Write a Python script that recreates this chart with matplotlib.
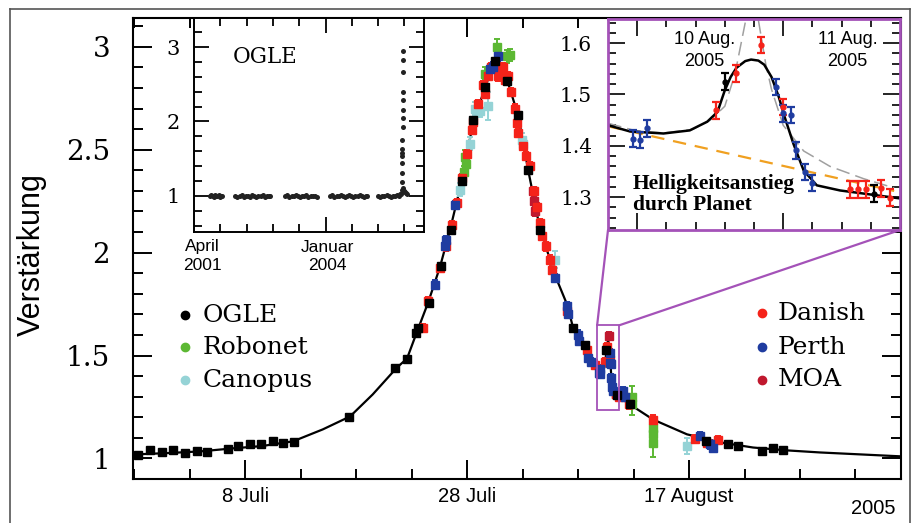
import matplotlib
matplotlib.use('Agg')
import matplotlib.pyplot as plt
from matplotlib.lines import Line2D
from matplotlib.patches import Rectangle, ConnectionPatch
from matplotlib.ticker import MultipleLocator, FixedLocator

# ---------------- data (x: Tage seit 8. Juli 2005) ----------------
model_x = [-10.1, -7.0, -4.05, -1.08, 1.5, 4.32, 7.0, 9.46, 11.5, 13.69, 14.59, 15.5,
           16.49, 17.57, 18.47, 19.55, 20.54, 21.62, 22.1, 22.55, 23.0, 23.6, 24.59,
           25.5, 26.58, 27.48, 28.2, 29.01, 29.55, 30.63, 31.2, 31.72, 31.87, 32.1,
           32.28, 32.4, 32.47, 32.52, 32.56, 32.6, 32.66, 32.7, 32.75, 32.79, 32.84,
           32.89, 32.93, 32.99, 33.06, 33.15, 33.31, 33.47, 33.68, 34.68, 36.76, 39.82,
           42.79, 45.77, 48.83, 51.8, 59.1]
model_y = [1.019, 1.026, 1.034, 1.049, 1.060, 1.083, 1.141, 1.204, 1.311, 1.442, 1.485,
           1.617, 1.757, 1.932, 2.112, 2.354, 2.631, 2.801, 2.875, 2.930, 2.905, 2.840,
           2.670, 2.403, 2.112, 1.966, 1.854, 1.748, 1.636, 1.544, 1.49, 1.440, 1.428,
           1.424, 1.430, 1.447, 1.466, 1.508, 1.534, 1.552, 1.565, 1.568, 1.566, 1.558,
           1.534, 1.495, 1.456, 1.404, 1.352, 1.323, 1.313, 1.307, 1.299, 1.262, 1.189,
           1.117, 1.078, 1.053, 1.039, 1.029, 1.010]

ogle_x = [-9.61, -8.56, -7.45, -6.46, -5.41, -4.35, -3.45, -1.56, -0.60, 0.45, 1.44, 2.55,
          3.45, 4.44, 9.40, 13.51, 14.56, 15.41, 15.62, 16.61, 17.63, 18.53, 19.52, 20.57,
          21.62, 22.52, 23.57, 24.62, 25.52, 26.58, 29.58, 30.63, 32.52, 33.54, 34.68,
          41.53, 43.54, 44.44, 46.55, 47.54, 48.50]
ogle_y = [1.019, 1.040, 1.031, 1.040, 1.028, 1.035, 1.031, 1.047, 1.060, 1.068, 1.068,
          1.084, 1.076, 1.081, 1.202, 1.437, 1.485, 1.610, 1.634, 1.756, 1.933, 2.112,
          2.346, 2.646, 2.807, 2.929, 2.832, 2.670, 2.403, 2.112, 1.634, 1.549, 1.525,
          1.307, 1.262, 1.084, 1.068, 1.060, 1.035, 1.049, 1.040]

danish_x = [16.0, 16.52, 17.57, 18.1, 18.62, 19.1, 19.52, 20.0, 20.42, 20.57, 21.0, 21.47,
            21.62, 21.9, 22.2, 22.67, 22.82, 23.0, 23.2, 23.42, 23.72, 24.0, 24.3, 24.47,
            24.62, 25.0, 25.3, 25.68, 26.0, 26.3, 26.58, 26.73, 27.1, 27.48, 27.63, 28.98,
            30.78, 31.53, 32.46, 32.60, 32.92, 33.38, 33.43, 33.49, 33.59, 33.65, 34.62,
            36.73, 40.54, 41.59, 42.58]
danish_y = [1.634, 1.764, 1.926, 2.03, 2.136, 2.24, 2.363, 2.48, 2.597, 2.637, 2.72, 2.816,
            2.77, 2.86, 2.90, 2.904, 2.856, 2.87, 2.90, 2.84, 2.856, 2.78, 2.70, 2.630,
            2.581, 2.52, 2.47, 2.419, 2.30, 2.22, 2.144, 2.079, 2.03, 1.966, 1.917, 1.715,
            1.529, 1.456, 1.469, 1.541, 1.476, 1.315, 1.315, 1.315, 1.317, 1.299, 1.262,
            1.189, 1.095, 1.076, 1.089]

perth_x = [17.12, 18.02, 18.1, 18.92, 22.1, 22.37, 22.82, 27.93, 28.98, 29.1, 30.03, 30.1,
           30.93, 31.2, 31.89, 31.94, 31.99, 32.87, 32.92, 32.97, 33.01, 33.07, 33.12,
           34.08, 34.2, 40.99, 41.89, 42.19]
perth_y = [1.845, 2.031, 2.06, 2.233, 2.89, 2.904, 2.953, 1.877, 1.74, 1.70, 1.602, 1.57,
           1.489, 1.47, 1.414, 1.411, 1.434, 1.514, 1.463, 1.460, 1.391, 1.349, 1.327,
           1.327, 1.30, 1.108, 1.068, 1.052]

robonet_x = [19.7, 19.82, 19.9, 21.62, 22.67, 23.57, 23.87, 34.83, 34.83, 36.73, 36.73, 36.73]
robonet_y = [2.39, 2.467, 2.43, 2.87, 3.00, 2.953, 2.961, 1.262, 1.30, 1.149, 1.117, 1.076]
robonet_err = [0.03, 0.03, 0.03, 0.03, 0.04, 0.03, 0.03, 0.05, 0.05, 0.03, 0.03, 0.07]

canopus_x = [19.37, 20.27, 20.72, 21.2, 21.92, 24.92, 25.0, 27.93, 39.79]
canopus_y = [2.306, 2.53, 2.70, 2.69, 2.712, 2.549, 2.53, 1.966, 1.06]
canopus_err = [0.03, 0.03, 0.03, 0.03, 0.07, 0.03, 0.03, 0.04, 0.04]

moa_x = [25.9, 26.0, 26.15, 32.77]
moa_y = [2.30, 2.25, 2.20, 1.596]

# Modelle in der Vergroesserung
orange_x = [31.72, 33.68]
orange_y = [1.438, 1.312]
gray1_x = [31.72, 31.9, 32.1, 32.3, 32.42, 32.52, 32.59, 32.66]
gray1_y = [1.444, 1.430, 1.425, 1.432, 1.450, 1.477, 1.54, 1.64]
gray2_x = [32.75, 32.80, 32.84, 32.92, 33.06, 33.24, 33.47, 33.68]
gray2_y = [1.645, 1.56, 1.51, 1.44, 1.39, 1.36, 1.336, 1.318]

# OGLE Langzeit (JD - 2452000)
hist_x = [124, 133, 142, 151, 160, 169, 178, 187, 196, 205, 212,
          314, 330, 346, 362, 378, 394, 410, 426, 442, 458, 474, 490, 506, 522, 538, 554, 570, 577,
          694, 710, 726, 742, 758, 774, 790, 806, 822, 838, 854, 870, 886, 902, 918, 934,
          1036, 1052, 1068, 1084, 1100, 1116, 1132, 1148, 1164, 1180, 1196, 1212, 1228, 1244,
          1260, 1276, 1292, 1308, 1316,
          1400, 1416, 1432, 1448, 1464, 1480, 1496, 1512, 1528, 1544, 1556, 1566, 1574,
          1578, 1580, 1581, 1582, 1583, 1584, 1585, 1585, 1586, 1587, 1587, 1588, 1588,
          1589, 1589, 1590, 1590, 1594, 1600, 1606, 1612, 1618]
hist_y = [1.00, 1.01, 1.00, 0.99, 1.01, 1.00, 1.00, 1.01, 0.99, 1.00, 1.00,
          1.00, 0.99, 1.00, 1.01, 0.99, 1.00, 1.00, 0.99, 1.01, 1.00, 0.99, 1.00, 1.00, 1.01, 0.99, 1.00, 1.00, 1.00,
          1.00, 1.01, 0.99, 1.00, 1.00, 1.01, 1.00, 0.99, 1.00, 1.00, 1.01, 0.99, 1.00, 1.00, 1.00, 0.99,
          1.00, 1.01, 0.99, 1.00, 1.00, 1.01, 1.00, 0.99, 1.00, 1.01, 1.00, 0.99, 1.00, 1.00,
          1.01, 1.00, 0.99, 1.00, 1.00,
          1.00, 0.99, 1.00, 1.00, 1.01, 1.00, 0.99, 1.00, 1.00, 1.01, 1.00, 1.02, 1.03,
          1.08, 1.19, 1.31, 1.44, 1.53, 1.57, 1.63, 1.75, 1.93, 2.05, 2.16, 2.29, 2.40,
          2.67, 2.83, 2.94, 1.10, 1.07, 1.06, 1.05, 1.04, 1.03]

left_labels = ['OGLE', 'Robonet', 'Canopus']
left_colors = ['black', '#5cb833', '#95d3d6']
right_labels = ['Danish', 'Perth', 'MOA']
right_colors = ['#f5231a', '#1f3ca0', '#c0182e']

# ---------------- figure ----------------
W, H = 917, 523
PURPLE = '#a452b8'


def box(l, t, r, b):
    return [l / W, 1 - b / H, (r - l) / W, (b - t) / H]


def fx(x):
    return x / W


def fy(y):
    return 1 - y / H


fig = plt.figure(figsize=(W / 100, H / 100), dpi=100)
fig.patch.set_facecolor('white')

# Rahmen
for xs, ys in [([10, 10], [9, 523]), ([10, 910], [9, 9]), ([910, 910], [9, 523])]:
    fig.add_artist(Line2D([fx(v) for v in xs], [fy(v) for v in ys], color='#555555', lw=1.2))

ax = fig.add_axes(box(133, 18, 901, 479))
ax.set_xlim(-10.1, 59.1)
ax.set_ylim(0.9, 3.14)

ax.plot(model_x, model_y, color='black', lw=1.6, zorder=3)
pts = [(canopus_x, canopus_y, canopus_err, left_colors[2]),
       (robonet_x, robonet_y, robonet_err, left_colors[1]),
       (moa_x, moa_y, [0.02] * len(moa_x), right_colors[2]),
       (danish_x, danish_y, [0.02] * len(danish_x), right_colors[0]),
       (perth_x, perth_y, [0.02] * len(perth_x), right_colors[1]),
       (ogle_x, ogle_y, [0.008] * len(ogle_x), 'black')]
for xs, ys, es, c in pts:
    ax.errorbar(xs, ys, yerr=es, fmt='s', ms=5.6, color=c, ecolor=c, elinewidth=1.4,
                capsize=2.5, capthick=1.4, zorder=4)

ax.xaxis.set_major_locator(FixedLocator([0, 20, 40]))
ax.xaxis.set_minor_locator(MultipleLocator(5))
ax.set_xticklabels(['8 Juli', '28 Juli', '17 August'], fontsize=14.5, family='Liberation Sans')
ax.yaxis.set_minor_locator(MultipleLocator(0.1))
ax.set_yticks([1, 1.5, 2, 2.5, 3])
ax.set_yticklabels(['1', '1.5', '2', '2.5', '3'], fontsize=20, family='DejaVu Serif')
ax.tick_params(which='both', direction='in', top=True, right=True, width=1.4)
ax.tick_params(which='major', length=14)
ax.tick_params(which='minor', length=7)
ax.tick_params(axis='y', pad=16.5)
ax.tick_params(axis='x', pad=6)
for s in ax.spines.values():
    s.set_linewidth(1.5)

ax.add_patch(Rectangle((31.72, 1.236), 2.0, 0.411, fill=False, ec=PURPLE, lw=1.3, zorder=5))

fig.text(fx(32), fy(255), 'Verstärkung', rotation=90, fontsize=22, family='Liberation Sans',
         ha='center', va='center')
fig.text(fx(873), fy(508), '2005', fontsize=14.5, family='Liberation Sans', ha='center', va='center')

# Legenden
for lab, c, yy in zip(left_labels, left_colors, [315, 347, 380]):
    fig.add_artist(Line2D([fx(185)], [fy(yy)], marker='o', ms=6, color=c, lw=0))
    fig.text(fx(203), fy(yy), lab, fontsize=18, family='DejaVu Serif', va='center')
for lab, c, yy in zip(right_labels, right_colors, [313, 347, 380]):
    fig.add_artist(Line2D([fx(762)], [fy(yy)], marker='o', ms=6, color=c, lw=0))
    fig.text(fx(778), fy(yy), lab, fontsize=18, family='DejaVu Serif', va='center')

# ---------------- OGLE Langzeit-Inset ----------------
axo = fig.add_axes(box(194, 18, 424, 232))
axo.set_facecolor('white')
axo.plot(hist_x, hist_y, 'o', color='#222222', ms=3.6, mew=0)
axo.set_xlim(0, 1749)
axo.set_ylim(0.515, 3.39)
axo.xaxis.set_major_locator(FixedLocator([1000]))
axo.xaxis.set_minor_locator(FixedLocator([200, 400, 600, 800, 1200, 1400, 1600]))
axo.yaxis.set_major_locator(FixedLocator([1, 2, 3]))
axo.yaxis.set_minor_locator(MultipleLocator(0.2))
axo.set_xticklabels([])
axo.set_yticklabels(['1', '2', '3'], fontsize=15, family='DejaVu Serif')
axo.tick_params(which='both', direction='in', top=True, right=True, width=1.3)
axo.tick_params(which='major', length=11)
axo.tick_params(which='minor', length=5.5)
axo.tick_params(axis='y', pad=10)
for s in axo.spines.values():
    s.set_linewidth(1.4)
axo.text(0.17, 0.82, 'OGLE', transform=axo.transAxes, fontsize=15.5, family='DejaVu Serif',
         va='center')
fig.text(fx(202), fy(247), 'April', fontsize=12.5, family='Liberation Sans', ha='center', va='center')
fig.text(fx(202), fy(265), '2001', fontsize=12.5, family='Liberation Sans', ha='center', va='center')
fig.text(fx(327), fy(247), 'Januar', fontsize=12.5, family='Liberation Sans', ha='center', va='center')
fig.text(fx(327), fy(265), '2004', fontsize=12.5, family='Liberation Sans', ha='center', va='center')

# ---------------- Vergroesserung der Planetenanomalie ----------------
axz = fig.add_axes(box(608, 19, 900, 230))
axz.set_facecolor('white')
axz.set_xlim(31.72, 33.72)
axz.set_ylim(1.236, 1.647)
axz.plot(orange_x, orange_y, color='#f0a020', lw=1.6, dashes=(6, 4))
axz.plot(gray1_x, gray1_y, color='#a0a0a0', lw=1.1, dashes=(9, 4))
axz.plot(gray2_x, gray2_y, color='#a0a0a0', lw=1.1, dashes=(9, 4))
axz.plot(model_x, model_y, color='black', lw=1.8)
zpts = [(moa_x, moa_y, right_colors[0]), (danish_x, danish_y, right_colors[0]),
        (perth_x, perth_y, right_colors[1]), (ogle_x, ogle_y, 'black')]
for xs, ys, c in zpts:
    axz.errorbar(xs, ys, yerr=0.016, fmt='o', ms=3.5, color=c, ecolor=c, elinewidth=1.6,
                 capsize=3, capthick=1.6)
axz.xaxis.set_major_locator(FixedLocator([31.92, 32.92]))
axz.xaxis.set_minor_locator(FixedLocator([32.12, 32.32, 32.52, 32.72, 33.12, 33.32, 33.52]))
axz.yaxis.set_major_locator(FixedLocator([1.3, 1.4, 1.5, 1.6]))
axz.yaxis.set_minor_locator(MultipleLocator(0.02))
axz.set_xticklabels([])
axz.set_yticklabels(['1.3', '1.4', '1.5', '1.6'], fontsize=14.5, family='DejaVu Serif')
axz.tick_params(which='both', direction='in', top=True, right=True, width=1.2)
axz.tick_params(which='major', length=12)
axz.tick_params(which='minor', length=5.5)
axz.tick_params(axis='y', pad=11.5)
for s in axz.spines.values():
    s.set_color(PURPLE)
    s.set_linewidth(2)
axz.text(0.33, 0.85, '10 Aug.\n2005', transform=axz.transAxes, fontsize=13,
         family='Liberation Sans', ha='center', va='center', linespacing=1.35)
axz.text(0.82, 0.85, '11 Aug.\n2005', transform=axz.transAxes, fontsize=13,
         family='Liberation Sans', ha='center', va='center', linespacing=1.35)
axz.text(0.085, 0.17, 'Helligkeitsanstieg\ndurch Planet', transform=axz.transAxes,
         fontsize=15.5, family='Liberation Serif', weight='bold', ha='left', va='center',
         linespacing=1.05)

for xa, xb in [(31.72, 0), (33.72, 1)]:
    con = ConnectionPatch(xyA=(xa, 1.647), coordsA=ax.transData, xyB=(xb, 0),
                          coordsB=axz.transAxes, color=PURPLE, lw=1.6)
    fig.add_artist(con)

fig.savefig('out.png', dpi=100)
